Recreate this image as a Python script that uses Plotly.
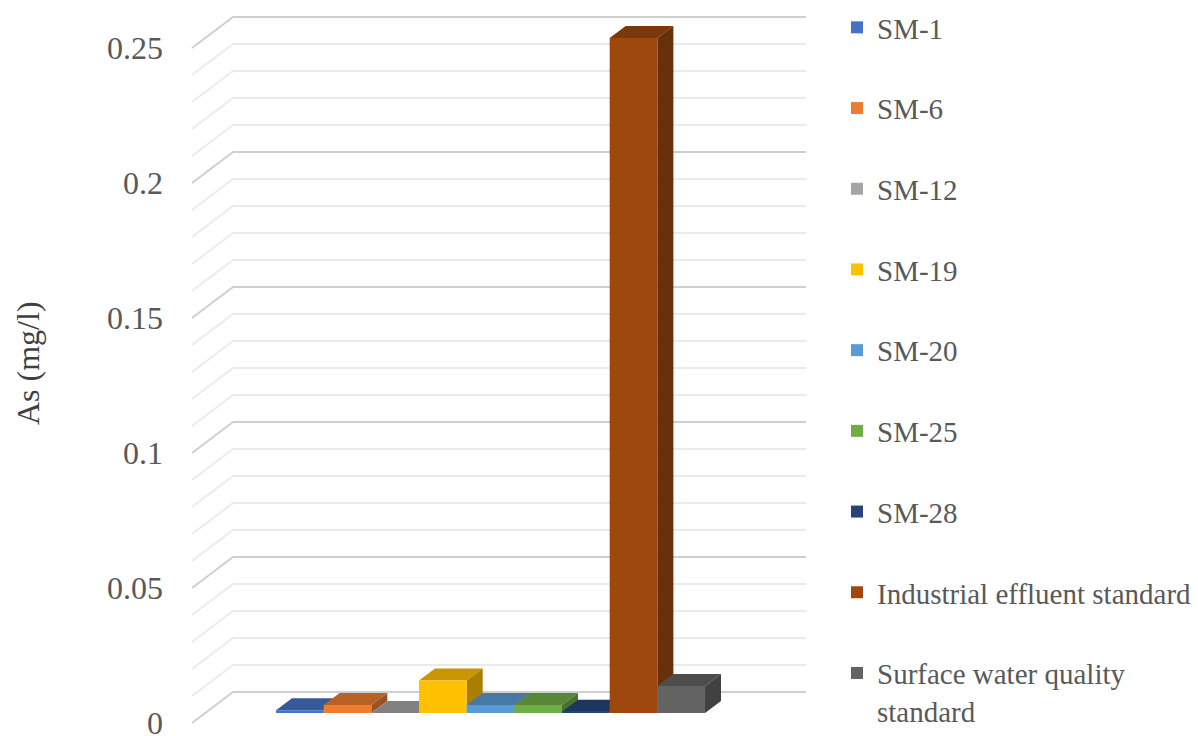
import plotly.graph_objects as go

# ---------------- data ----------------
series_names = ["SM-1", "SM-6", "SM-12", "SM-19", "SM-20", "SM-25", "SM-28",
                "Industrial effluent standard", "Surface water quality<br>standard"]
as_values = [0.001, 0.003, 0.0, 0.012, 0.003, 0.003, 0.0005, 0.25, 0.01]
series_colors = ["#4472C4", "#ED7D31", "#A5A5A5", "#FFC000", "#5B9BD5",
                 "#70AD47", "#264478", "#9E480E", "#636363"]
tick_values = [0, 0.05, 0.1, 0.15, 0.2, 0.25]
tick_labels = ["0", "0.05", "0.1", "0.15", "0.2", "0.25"]
minor_step = 0.01
axis_title = "As (mg/l)"

# ---------------- geometry (pixels) ----------------
W, H = 1198, 736
BAR_X0 = 276.0          # left edge of first bar (front plane of bars)
BAR_W = 47.67           # width of one bar
BASE_Y = 713.0          # pixel y of value 0 on bars' front plane
PPU = 2700.0            # pixels per unit of As
BAR_DX, BAR_DY = 16.0, 12.0          # bar depth offset (right, up)
WALL_FRONT_X, WALL_FRONT_DY = 192.0, 10.0   # front edge of side wall
WALL_BACK_X, WALL_BACK_DY = 233.0, -21.0    # back wall left edge
WALL_BACK_RIGHT_X = 806.0

def ux(px):
    return (px - BAR_X0) / BAR_W

def dy_data(px_down):
    return -px_down / PPU

x_range = [ux(0), ux(W)]
y_range = [(BASE_Y - H) / PPU, BASE_Y / PPU]

FONT = "Liberation Serif"
TXT = "#595959"

def shade(hex_color, f):
    h = hex_color.lstrip("#")
    r, g, b = (int(h[i:i + 2], 16) for i in (0, 2, 4))
    return "rgb(%d,%d,%d)" % (round(r * f), round(g * f), round(b * f))

fig = go.Figure()
shapes = []

# walls / gridlines
n_minor = int(round(max(tick_values) / minor_step))
for k in range(n_minor + 1):
    v = k * minor_step
    major = any(abs(v - t) < 1e-9 for t in tick_values)
    col = "#cfcfcf" if major else "#ebebeb"
    x0, y0 = ux(WALL_FRONT_X), v + dy_data(WALL_FRONT_DY)
    x1, y1 = ux(WALL_BACK_X), v + dy_data(WALL_BACK_DY)
    x2 = ux(WALL_BACK_RIGHT_X)
    shapes.append(dict(type="path", xref="x", yref="y", layer="below",
                       path=f"M{x0},{y0} L{x1},{y1} L{x2},{y1}",
                       line=dict(color=col, width=2)))

ddx = BAR_DX / BAR_W
ddy = BAR_DY / PPU
for i, (name, val, col) in enumerate(zip(series_names, as_values, series_colors)):
    fig.add_trace(go.Bar(x=[i + 0.5], y=[val], width=1, name=name,
                         marker=dict(color=col, line=dict(width=0)),
                         legendgroup=str(i), showlegend=True, hoverinfo="name+y"))
    L, R = i, i + 1
    shapes.append(dict(type="path", xref="x", yref="y", layer="below",
                       path=f"M{L},{val} L{R},{val} L{R + ddx},{val + ddy} L{L + ddx},{val + ddy} Z",
                       fillcolor=shade(col, 0.78), line=dict(width=0)))
    shapes.append(dict(type="path", xref="x", yref="y", layer="below",
                       path=f"M{R},0 L{R + ddx},{ddy} L{R + ddx},{val + ddy} L{R},{val} Z",
                       fillcolor=shade(col, 0.66), line=dict(width=0)))

annotations = []
for tv, tl in zip(tick_values, tick_labels):
    annotations.append(dict(xref="paper", yref="y", x=165 / W, y=tv + dy_data(WALL_FRONT_DY),
                            text=tl, showarrow=False, xanchor="right", yanchor="middle",
                            font=dict(family=FONT, size=32, color=TXT)))
annotations.append(dict(xref="paper", yref="paper", x=28 / W, y=1 - 363 / H, text=axis_title,
                        textangle=-90, showarrow=False, xanchor="center", yanchor="middle",
                        font=dict(family=FONT, size=32, color="#404040")))

fig.update_layout(
    width=W, height=H,
    margin=dict(l=0, r=0, t=0, b=0),
    paper_bgcolor="white", plot_bgcolor="white",
    barmode="overlay",
    xaxis=dict(range=x_range, visible=False, fixedrange=True),
    yaxis=dict(range=y_range, visible=False, fixedrange=True),
    shapes=shapes, annotations=annotations,
    legend=dict(x=837 / W, y=1 - 16 / H, xanchor="left", yanchor="top",
                font=dict(family=FONT, size=29, color=TXT),
                tracegroupgap=40, valign="top", bgcolor="rgba(0,0,0,0)"),
    showlegend=True,
)

fig.write_html("out.html")
